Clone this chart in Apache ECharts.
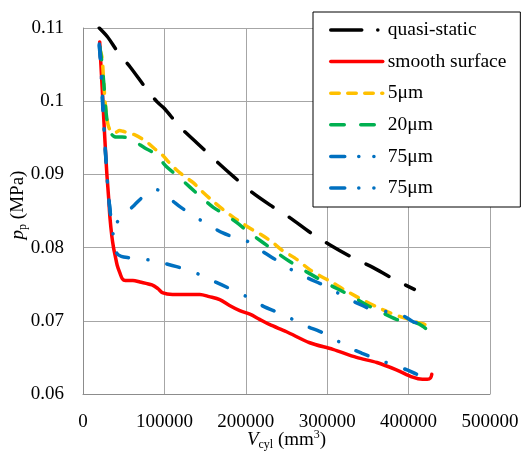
<!DOCTYPE html>
<html>
<head>
<meta charset="utf-8">
<script src="https://cdn.jsdelivr.net/npm/echarts@6/dist/echarts.min.js"></script>
<style>
html,body{margin:0;padding:0;background:#fff;}
#chart{width:525px;height:453px;}
</style>
</head>
<body>
<div id="chart"></div>
<script>
// ---- Data (V_cyl in mm^3, p_p in MPa) ----
const seriesNames = ['quasi-static', 'smooth surface', '5μm', '20μm', '75μm', '75μm '];

const quasiX = [20000, 30000, 42900, 57700, 79800, 92000, 100000, 119000, 140000, 162000, 185000, 207000, 230000, 254000, 280000, 303000, 330000, 356000, 380000, 407000];
const quasiY = [0.1100, 0.1088, 0.1067, 0.1047, 0.1014, 0.0998, 0.0990, 0.0965, 0.0943, 0.0920, 0.0897, 0.0876, 0.0858, 0.0841, 0.0820, 0.0804, 0.0787, 0.0773, 0.0758, 0.0743];

const smoothX = [20500, 22000, 24500, 27000, 29400, 31500, 33100, 35500, 37500, 39300, 42000, 45400, 48500, 52000, 61300, 70000, 84700, 92000, 98200, 110000, 125000, 143600, 155000, 168000, 180000, 192600, 205000, 217000, 229000, 250000, 278500, 307000, 336000, 361000, 385000, 405000, 417000, 423000, 427000, 428500];
const smoothY = [0.1081, 0.1050, 0.0998, 0.0945, 0.0899, 0.0868, 0.0841, 0.0815, 0.0800, 0.0790, 0.0776, 0.0765, 0.0757, 0.0755, 0.0755, 0.0753, 0.0749, 0.0744, 0.0738, 0.0736, 0.0736, 0.0736, 0.0733, 0.0729, 0.0721, 0.0714, 0.0709, 0.0702, 0.0695, 0.0685, 0.0670, 0.0661, 0.0650, 0.0643, 0.0633, 0.0623, 0.0620, 0.0620, 0.0622, 0.0627];

const um5X = [20500, 23300, 25000, 27000, 29000, 30700, 33000, 36000, 39300, 45000, 49000, 57700, 63800, 72000, 79800, 88000, 97000, 106000, 115000, 125000, 135000, 147000, 160000, 172000, 184000, 196000, 208600, 220000, 233000, 245000, 260000, 278500, 292000, 307000, 320000, 336000, 348000, 361000, 375000, 389000, 400000, 413000, 420000, 426000];
const um5Y = [0.1072, 0.1060, 0.1035, 0.1001, 0.0980, 0.0968, 0.0961, 0.0958, 0.0957, 0.0960, 0.0959, 0.0956, 0.0954, 0.0949, 0.0943, 0.0935, 0.0927, 0.0916, 0.0906, 0.0897, 0.0889, 0.0876, 0.0863, 0.0852, 0.0842, 0.0833, 0.0824, 0.0817, 0.0807, 0.0796, 0.0786, 0.0770, 0.0761, 0.0752, 0.0743, 0.0733, 0.0726, 0.0719, 0.0712, 0.0706, 0.0702, 0.0697, 0.0695, 0.0690];

const um20X = [20500, 23000, 25500, 27500, 29400, 32000, 35000, 38000, 41700, 48000, 55200, 65000, 76000, 86000, 95000, 103000, 117000, 131000, 145000, 160000, 175000, 189000, 205000, 221000, 237000, 254000, 270000, 287000, 303000, 319000, 334000, 348000, 366000, 385000, 398000, 410000, 418000, 426000];
const um20Y = [0.1075, 0.1055, 0.1025, 0.0995, 0.0975, 0.0962, 0.0955, 0.0952, 0.0951, 0.0951, 0.0950, 0.0944, 0.0936, 0.0930, 0.0920, 0.0910, 0.0897, 0.0883, 0.0869, 0.0855, 0.0845, 0.0834, 0.0820, 0.0807, 0.0794, 0.0781, 0.0770, 0.0759, 0.0749, 0.0740, 0.0731, 0.0722, 0.0712, 0.0702, 0.0699, 0.0697, 0.0692, 0.0685];

const um75aX = [20000, 22000, 24000, 26000, 28500, 31000, 33500, 35600, 38000, 42000, 47900, 54000, 63000, 72400, 82000, 90800, 97000, 103000, 111000, 119000, 131000, 143600, 157000, 171800, 184000, 196300, 205000, 214000, 223000, 236000, 250000, 262000, 275000, 287000, 299000, 313000, 327600, 341000, 356000, 370000, 383000, 395000, 405000, 411000, 417000, 421000];
const um75aY = [0.1078, 0.1050, 0.1005, 0.0960, 0.0915, 0.0875, 0.0848, 0.0831, 0.0830, 0.0835, 0.0841, 0.0848, 0.0858, 0.0868, 0.0874, 0.0879, 0.0876, 0.0870, 0.0863, 0.0856, 0.0847, 0.0838, 0.0829, 0.0820, 0.0815, 0.0811, 0.0807, 0.0800, 0.0793, 0.0784, 0.0774, 0.0766, 0.0759, 0.0753, 0.0747, 0.0738, 0.0729, 0.0722, 0.0715, 0.0713, 0.0711, 0.0706, 0.0699, 0.0697, 0.0695, 0.0692];

const um75bX = [20000, 22000, 24000, 26500, 29000, 31500, 34000, 36500, 39000, 41700, 47000, 57700, 70000, 82200, 98000, 115000, 129000, 143600, 157000, 170600, 186000, 201000, 212000, 223000, 236000, 250000, 263000, 276000, 290000, 303000, 315000, 327600, 342000, 356000, 370000, 385000, 398000, 410000, 417000, 422000];
const um75bY = [0.1076, 0.1045, 0.0998, 0.0950, 0.0905, 0.0870, 0.0843, 0.0822, 0.0805, 0.0792, 0.0788, 0.0786, 0.0784, 0.0783, 0.0779, 0.0774, 0.0769, 0.0763, 0.0756, 0.0749, 0.0741, 0.0733, 0.0726, 0.0719, 0.0713, 0.0706, 0.0699, 0.0692, 0.0686, 0.0679, 0.0671, 0.0663, 0.0656, 0.0650, 0.0644, 0.0638, 0.0633, 0.0627, 0.0625, 0.0623];

const xTicks = [0, 100000, 200000, 300000, 400000, 500000];
const yTicks = [0.06, 0.07, 0.08, 0.09, 0.1, 0.11];

// ---- Styling ----
const FONT = '"Liberation Serif", "Times New Roman", serif';
const colors = ['#000000', '#ff0000', '#ffc000', '#00b050', '#0070c0', '#0070c0'];
const plotDash = [[26, 19], 'solid', [9, 9], [13.5, 16.5], [13, 19.5, 0.1, 19.5], [13, 19.5, 0.1, 19.5]];
const legendDash = [[31, 16, 0.1, 20], 'solid', [8.5, 8.5], [13.5, 16.5], [14, 14, 0.1, 15, 0.1, 20], [14, 14, 0.1, 15, 0.1, 20]];
const LW = 3.5;

function zip(xs, ys) { return xs.map((x, i) => [x, ys[i]]); }
const allData = [zip(quasiX, quasiY), zip(smoothX, smoothY), zip(um5X, um5Y), zip(um20X, um20Y), zip(um75aX, um75aY), zip(um75bX, um75bY)];

const chart = echarts.init(document.getElementById('chart'), null, {renderer: 'canvas'});
const option = {
  animation: false,
  backgroundColor: '#ffffff',
  textStyle: {fontFamily: FONT},
  grid: {left: 83, right: 35, top: 28, bottom: 59, containLabel: false, outerBoundsMode: 'none'},
  xAxis: {
    type: 'value', min: 0, max: 500000, interval: 100000,
    name: '{i|V}{s|cyl}{n| (mm}{u|3}{n|)}',
    nameLocation: 'middle', nameGap: 35, nameMoveOverlap: false,
    nameTextStyle: {
      rich: {
        i: {fontFamily: FONT, fontSize: 19, fontStyle: 'italic', color: '#000'},
        s: {fontFamily: FONT, fontSize: 12, color: '#000', verticalAlign: 'bottom', lineHeight: 22},
        n: {fontFamily: FONT, fontSize: 19, color: '#000'},
        u: {fontFamily: FONT, fontSize: 12, color: '#000', verticalAlign: 'top', lineHeight: 22}
      }
    },
    axisLine: {show: true, lineStyle: {color: '#8c8c8c', width: 1}},
    axisTick: {show: false},
    axisLabel: {fontFamily: FONT, fontSize: 19, color: '#000', margin: 19,
      formatter: v => xTicks.indexOf(v) >= 0 ? String(v) : ''},
    splitLine: {show: true, lineStyle: {color: '#a6a6a6', width: 1}}
  },
  yAxis: {
    type: 'value', min: 0.06, max: 0.11, interval: 0.01,
    name: '{i|p}{s|p}{n| (MPa)}',
    nameLocation: 'middle', nameGap: 54, nameRotate: 90, nameMoveOverlap: false,
    nameTextStyle: {
      padding: [0, 0, 0, 12],
      rich: {
        i: {fontFamily: FONT, fontSize: 19, fontStyle: 'italic', color: '#000'},
        s: {fontFamily: FONT, fontSize: 12, color: '#000', verticalAlign: 'bottom', lineHeight: 22},
        n: {fontFamily: FONT, fontSize: 19, color: '#000'}
      }
    },
    axisLine: {show: true, lineStyle: {color: '#8c8c8c', width: 1}},
    axisTick: {show: false},
    axisLabel: {fontFamily: FONT, fontSize: 19, color: '#000', margin: 19,
      formatter: v => { const t = yTicks.find(y => Math.abs(y - v) < 1e-9); return t === undefined ? '' : String(t); }},
    splitLine: {show: true, lineStyle: {color: '#a6a6a6', width: 1}}
  },
  legend: {
    show: true, orient: 'vertical', left: 313, top: 12,
    padding: [8, 14, 9, 16],
    itemGap: 11.6, itemWidth: 52, itemHeight: 14,
    backgroundColor: '#ffffff', borderColor: '#000000', borderWidth: 1, borderRadius: 0,
    textStyle: {fontFamily: FONT, fontSize: 19.5, color: '#000', padding: [0, 0, 0, 0]},
    itemStyle: {opacity: 0},
    data: seriesNames.map((n, i) => ({
      name: n,
      itemStyle: {opacity: 0},
      lineStyle: {color: colors[i], width: LW, type: legendDash[i], cap: 'round', opacity: 1}
    }))
  },
  series: seriesNames.map((n, i) => ({
    name: n, type: 'line', data: allData[i],
    showSymbol: false, symbol: 'none', smooth: 0.3, clip: true,
    lineStyle: {color: colors[i], width: LW, type: plotDash[i], cap: 'round', join: 'round'},
    itemStyle: {color: colors[i]},
    emphasis: {disabled: true},
    z: 2 + i
  }))
};
chart.setOption(option);
</script>
</body>
</html>
